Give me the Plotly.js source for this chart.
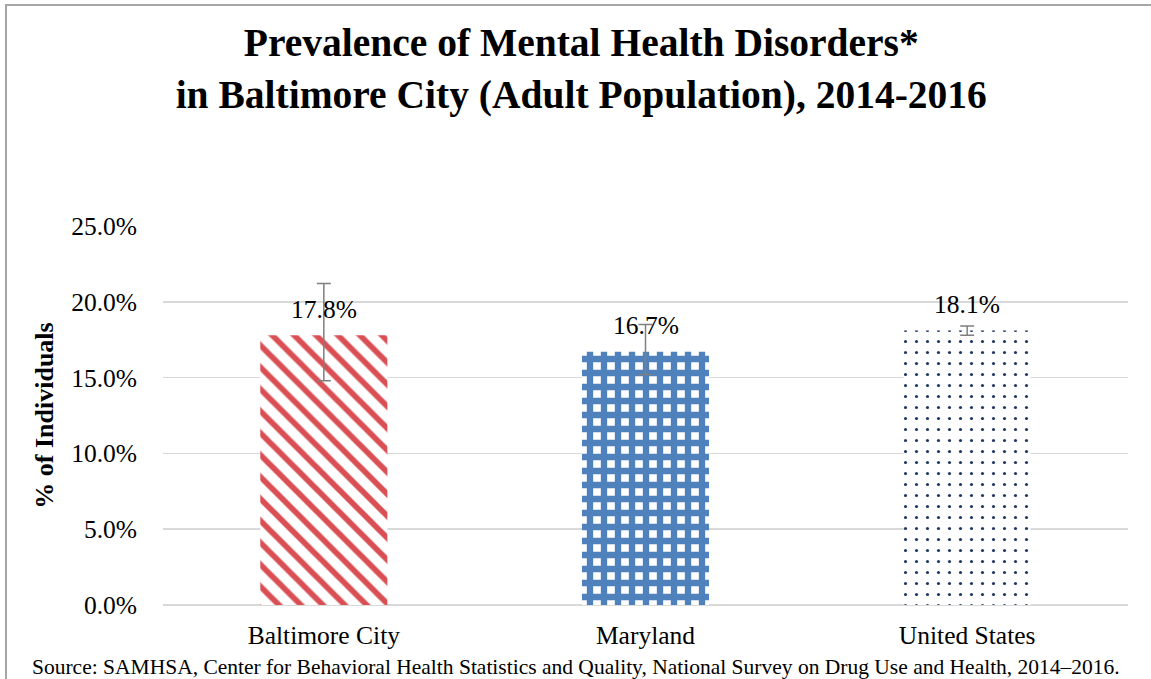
<!DOCTYPE html>
<html>
<head>
<meta charset="utf-8">
<script src="https://cdn.plot.ly/plotly-3.0.1.min.js"></script>
<style>
html,body{margin:0;padding:0;background:#fff;}
#chart{width:1151px;height:679px;position:absolute;left:0;top:0;}
#frame{position:absolute;left:5px;top:4px;width:1200px;height:720px;border-left:2px solid #a6a6a6;border-top:2px solid #a6a6a6;pointer-events:none;}
</style>
</head>
<body>
<div id="chart"></div>
<div id="frame"></div>
<script>
var categories = ["Baltimore City", "Maryland", "United States"];
var values = [17.8, 16.7, 18.1];
var errPlus = [3.4, 1.8, 0.3];
var errMinus = [3.0, 1.5, 0.3];
var labels = ["17.8%", "16.7%", "18.1%"];
var patternShapes = ["\\", "+", "."];
var patternColors = ["#d94f54", "#4f81bd", "#1f3864"];
var patternSizes = [15.5, 14, 11];
var patternSolidity = [0.37, 0.7, 0.065];
var yTicks = [0, 5, 10, 15, 20, 25];
var yTickText = ["0.0%", "5.0%", "10.0%", "15.0%", "20.0%", "25.0%"];
var sourceText = "Source: SAMHSA, Center for Behavioral Health Statistics and Quality, National Survey on Drug Use and Health, 2014\u20132016.";

var serif = "Liberation Serif, Times New Roman, serif";

var trace = {
  type: "bar",
  x: categories,
  y: values,
  cliponaxis: false,
  width: 0.395,
  marker: {
    color: "#ffffff",
    line: {width: 0},
    pattern: {
      shape: patternShapes,
      fgcolor: patternColors,
      bgcolor: "#ffffff",
      size: patternSizes,
      solidity: patternSolidity,
      fillmode: "replace"
    }
  },
  error_y: {
    type: "data",
    symmetric: false,
    array: errPlus,
    arrayminus: errMinus,
    color: "#7f7f7f",
    thickness: 1.5,
    width: 7
  },
  hoverinfo: "none"
};

var annotations = categories.map(function (c, i) {
  return {
    text: labels[i],
    x: c, y: values[i],
    xref: "x", yref: "y",
    xanchor: "center", yanchor: "middle",
    yshift: 26,
    showarrow: false,
    font: {family: serif, size: 25.5, color: "#000"}
  };
});
annotations.push({
  text: sourceText,
  xref: "paper", yref: "paper",
  x: -0.138, y: -0.164,
  xanchor: "left", yanchor: "middle",
  showarrow: false,
  font: {family: serif, size: 21.5, color: "#000"}
});

var layout = {
  width: 1151,
  height: 679,
  paper_bgcolor: "#ffffff",
  plot_bgcolor: "#ffffff",
  margin: {l: 163, r: 23, t: 226, b: 74},
  showlegend: false,
  title: {
    text: "<b>Prevalence of Mental Health Disorders*</b><br><b>in Baltimore City (Adult Population), 2014-2016</b>",
    font: {family: serif, size: 39.5, color: "#000"},
    x: 0.505, xanchor: "center", xref: "container",
    y: 0.917, yanchor: "middle", yref: "container"
  },
  xaxis: {
    tickfont: {family: serif, size: 25.5, color: "#000"},
    showgrid: false, showline: false, zeroline: false,
    ticks: "",
    ticklabelstandoff: 12
  },
  yaxis: {
    range: [0, 25],
    tickvals: yTicks,
    ticktext: yTickText,
    tickfont: {family: serif, size: 25.5, color: "#000"},
    showgrid: true, gridcolor: "#d9d9d9", gridwidth: 1.5,
    zeroline: true, zerolinecolor: "#d9d9d9", zerolinewidth: 1.5,
    showline: false, ticks: "",
    ticklabelstandoff: 25,
    title: {text: "<b>% of Individuals</b>", font: {family: serif, size: 26, color: "#000"}, standoff: 10}
  },
  annotations: annotations
};

Plotly.newPlot("chart", [trace], layout, {displayModeBar: false, staticPlot: true});
</script>
</body>
</html>
